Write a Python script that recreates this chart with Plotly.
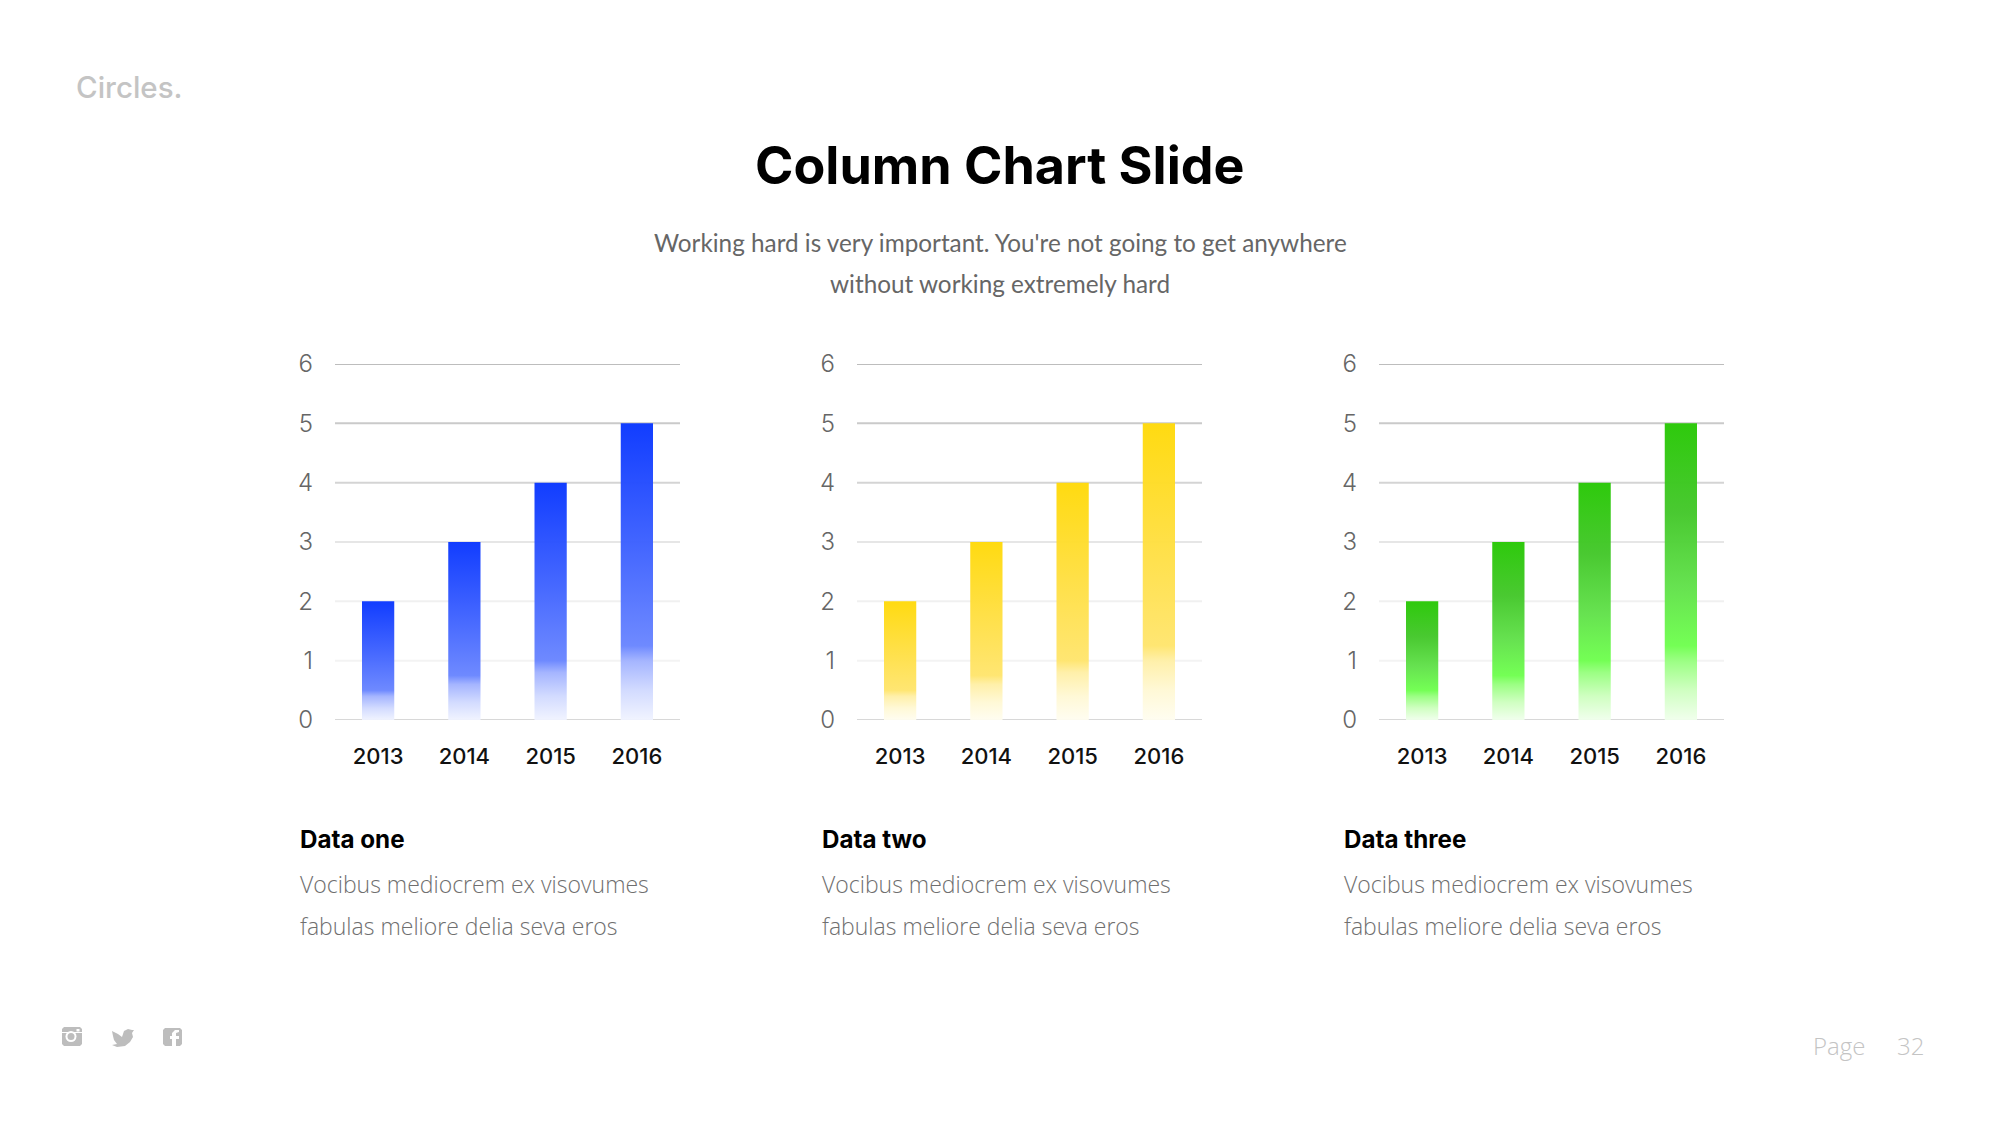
import plotly.graph_objects as go

W, H = 2000, 1125
categories = ["2013", "2014", "2015", "2016"]
values_one = [2, 3, 4, 5]
values_two = [2, 3, 4, 5]
values_three = [2, 3, 4, 5]
y_ticks = [0, 1, 2, 3, 4, 5, 6]
grid_colors = ["#d8d8d8", "#f3f3f3", "#f0f0f0", "#e6e6e6", "#d4d4d4", "#cacaca", "#bdbdbd"]
names = ["Data one", "Data two", "Data three"]
desc_lines = ["Vocibus mediocrem ex visovumes", "fabulas meliore delia seva eros"]
title = "Column Chart Slide"
subtitle = ["Working hard is very important. You're not going to get anywhere", "without working extremely hard"]

scale_blue = [[0, "rgba(240,243,255,0.95)"], [0.1, "rgba(208,217,255,0.95)"], [0.2, "rgba(160,177,255,0.95)"], [0.25, "rgba(106,134,255,0.97)"], [0.6, "rgba(60,96,255,0.97)"], [1, "rgba(15,59,255,0.99)"]]
scale_yellow = [[0, "rgba(255,253,240,0.95)"], [0.1, "rgba(255,248,212,0.95)"], [0.2, "rgba(255,239,165,0.95)"], [0.25, "rgba(255,229,110,0.97)"], [0.6, "rgba(255,223,65,0.97)"], [1, "rgba(255,218,15,0.99)"]]
scale_green = [[0, "rgba(240,255,236,0.95)"], [0.1, "rgba(205,255,190,0.95)"], [0.2, "rgba(150,255,125,0.95)"], [0.25, "rgba(112,255,80,0.97)"], [0.45, "rgba(98,225,75,0.97)"], [0.7, "rgba(70,200,45,0.98)"], [1, "rgba(44,201,10,0.99)"]]

panels = [(335, values_one, scale_blue), (857, values_two, scale_yellow), (1379, values_three, scale_green)]
PW = 345
TOP, BOTTOM = 364, 720
BAR_HALF = 0.187

fig = go.Figure()
annotations = []
shapes = []


def text(x, y, s, size, color, family, weight=400, anchor="left"):
    annotations.append(dict(x=x / W, y=1 - y / H, xref="paper", yref="paper", text=s, showarrow=False,
                            xanchor=anchor, yanchor="middle", align=anchor, borderpad=0,
                            font=dict(size=size, color=color, family=family, weight=weight)))


for idx, (left, vals, scale) in enumerate(panels):
    suffix = "" if idx == 0 else str(idx + 1)
    xa, ya = "x" + suffix, "y" + suffix
    fig.layout["xaxis" + suffix] = dict(
        domain=[left / W, (left + PW) / W], range=[-0.5, 3.5], anchor=ya, showgrid=False, zeroline=False,
        showline=False, ticks="", tickmode="array", tickvals=list(range(len(categories))), ticktext=categories,
        tickfont=dict(family="Inter", size=22, color="#111111", weight=500), ticklabelstandoff=21, automargin=False)
    fig.layout["yaxis" + suffix] = dict(
        domain=[1 - BOTTOM / H, 1 - TOP / H], range=[0, 6], anchor=xa, showgrid=False, zeroline=False,
        showline=False, ticks="", tickmode="array", tickvals=y_ticks,
        tickfont=dict(family="Inter", size=24, color="#666666", weight=300), ticklabelstandoff=21, automargin=False)
    for tv, gc in zip(y_ticks, grid_colors):
        shapes.append(dict(type="line", xref=xa + " domain", yref=ya, x0=0, x1=1, y0=tv, y1=tv,
                           line=dict(color=gc, width=2), layer="below"))
    for i, v in enumerate(vals):
        fig.add_trace(go.Scatter(
            x=[i - BAR_HALF, i + BAR_HALF], y=[v, v], xaxis=xa, yaxis=ya, mode="lines", fill="tozeroy",
            line=dict(width=0), fillgradient=dict(type="vertical", colorscale=scale),
            showlegend=False, name=categories[i], hoverinfo="x+y"))
    tx = left - 36
    text(tx, 839, names[idx], 24.2, "#000000", "Inter", 700)
    text(tx, 884, desc_lines[0], 23, "#6f6f6f", "Open Sans", 300)
    text(tx, 925.5, desc_lines[1], 23, "#6f6f6f", "Open Sans", 300)

text(75, 87, "Circles.", 29.5, "#c4c4c4", "Inter", 500)
text(1000, 165, title, 52, "#000000", "Inter", 700, "center")
text(1000, 243, subtitle[0], 24.3, "#666666", "Lato", 400, "center")
text(1000, 283, subtitle[1], 24.3, "#666666", "Lato", 400, "center")
text(1812, 1045, "Page", 24, "#c4c4c4", "Open Sans", 300)
text(1896, 1045, "32", 24, "#c4c4c4", "Open Sans", 300)


def icon(path):
    shapes.append(dict(type="path", xref="paper", yref="paper", path=path, fillcolor="#bdbdbd", line=dict(width=0), layer="above"))


def P(pts, close=True):
    s = " ".join(("M" if i == 0 else "L") + f"{x / W:.5f},{1 - y / H:.5f}" for i, (x, y) in enumerate(pts))
    return s + (" Z" if close else "")


# instagram
icon(P([(64, 1027), (80, 1027), (82, 1029), (82, 1044), (80, 1046), (64, 1046), (62, 1044), (62, 1029)]))
shapes.append(dict(type="circle", xref="paper", yref="paper", x0=65.5 / W, x1=76.5 / W, y0=1 - 1042 / H, y1=1 - 1031 / H,
                   fillcolor="#ffffff", line=dict(width=0)))
shapes.append(dict(type="circle", xref="paper", yref="paper", x0=67.5 / W, x1=74.5 / W, y0=1 - 1040 / H, y1=1 - 1033 / H,
                   fillcolor="#bdbdbd", line=dict(width=0)))
shapes.append(dict(type="rect", xref="paper", yref="paper", x0=62 / W, x1=82 / W, y0=1 - 1033 / H, y1=1 - 1032 / H,
                   fillcolor="#ffffff", line=dict(width=0)))
shapes.append(dict(type="rect", xref="paper", yref="paper", x0=76.5 / W, x1=79.5 / W, y0=1 - 1031.5 / H, y1=1 - 1029 / H,
                   fillcolor="#ffffff", line=dict(width=0)))
# twitter
icon(P([(112, 1031), (118, 1034), (122, 1037), (124, 1031), (128, 1029), (132, 1030), (134, 1030), (132, 1033), (133, 1037),
        (130, 1042), (125, 1046), (117, 1047), (112, 1045), (117, 1044), (114, 1040), (113, 1036)]))
# facebook
icon(P([(165, 1028), (180, 1028), (182, 1030), (182, 1044), (180, 1046), (176, 1046), (176, 1039), (179, 1039), (179, 1036),
        (176, 1036), (176, 1033), (179, 1032), (179, 1030), (175, 1030), (172, 1033), (172, 1036), (170, 1036), (170, 1039),
        (172, 1039), (172, 1046), (165, 1046), (163, 1044), (163, 1030)]))

fig.update_layout(width=W, height=H, margin=dict(l=0, r=0, t=0, b=0, autoexpand=False), paper_bgcolor="#ffffff", plot_bgcolor="rgba(0,0,0,0)",
                  showlegend=False, annotations=annotations, shapes=shapes)
fig.write_html("out.html", config={"displayModeBar": False}, post_script="document.body.style.margin='0';document.body.style.overflow='hidden';")
